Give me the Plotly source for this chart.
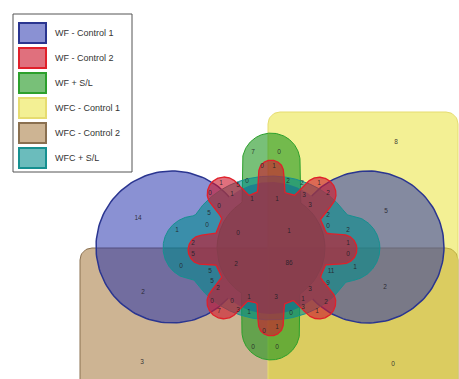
import numpy as np
import plotly.graph_objects as go

# ---- data -----------------------------------------------------------------
set_names = ["WF - Control 1", "WF - Control 2", "WF + S/L",
             "WFC - Control 1", "WFC - Control 2", "WFC + S/L"]

# region counts and the spot where each one is printed
region_counts = [8, 14, 5, 2, 2, 3, 0,
                 7, 0, 0, 1,
                 1, 0, 5, 0, 2, 2, 1,
                 1, 1, 1, 3, 2,
                 0, 3, 5, 2, 0, 0,
                 1, 2, 0, 1, 2, 1, 5, 0,
                 2, 86, 0, 1, 5, 11, 5, 9,
                 2, 3, 1, 3, 0, 0, 1, 2,
                 7, 3, 1, 0, 3, 1,
                 0, 1, 0, 0]
label_x = [396, 138, 386, 143, 385, 142, 393,
           253, 279, 262, 274,
           221, 210, 238, 247, 288, 302, 319,
           232, 252, 277, 304, 328,
           219, 310, 209, 328, 207, 328,
           177, 348, 238, 289, 193, 348, 193, 348,
           236, 289, 181, 355, 210, 331, 212, 328,
           218, 310, 249, 276, 212, 232, 303, 326,
           219, 238, 249, 291, 303, 317,
           264, 277, 253, 277]
label_y = [142, 218, 211, 292, 287, 362, 364,
           152, 152, 166, 166,
           183, 193, 185, 181, 181, 183, 183,
           194, 199, 199, 195, 193,
           206, 205, 213, 215, 225, 226,
           230, 230, 233, 231, 243, 243, 254, 254,
           264, 263, 266, 267, 271, 271, 281, 283,
           288, 289, 297, 297, 301, 301, 299, 302,
           311, 310, 312, 313, 307, 311,
           331, 327, 347, 347]

# fill / edge colours of the six sets (same order as set_names)
fills = ["rgba(30,45,170,0.52)", "rgba(205,25,45,0.62)", "rgba(30,150,30,0.6)",
         "rgba(232,226,50,0.52)", "rgba(155,105,40,0.5)", "rgba(0,140,140,0.58)"]
edges = ["#2a3590", "#e0202a", "#2ca02c", "#e6dc70", "#8a7050", "#169090"]

W, H = 459, 379
CX, CY = 271, 248


# ---- geometry helpers ------------------------------------------------------
def circle(cx, cy, r):
    return lambda X, Y: (X - cx) ** 2 + (Y - cy) ** 2 <= r * r


def ellipse(cx, cy, rx, ry):
    return lambda X, Y: ((X - cx) / rx) ** 2 + ((Y - cy) / ry) ** 2 <= 1


def capsule(x1, y1, x2, y2, r):
    def inside(X, Y):
        dx, dy = x2 - x1, y2 - y1
        t = np.clip(((X - x1) * dx + (Y - y1) * dy) / (dx * dx + dy * dy), 0, 1)
        return (X - x1 - t * dx) ** 2 + (Y - y1 - t * dy) ** 2 <= r * r
    return inside


def radial_union(parts, smooth=8, n=1440, rmax=200):
    th = np.linspace(0, 2 * np.pi, n, endpoint=False)
    r = np.linspace(0, rmax, 1601)
    X = CX + r[None, :] * np.cos(th)[:, None]
    Y = CY + r[None, :] * np.sin(th)[:, None]
    ins = np.zeros(X.shape, bool)
    for p in parts:
        ins |= p(X, Y)
    rad = np.where(ins, r[None, :], 0).max(axis=1)
    if smooth > 1:
        k = np.ones(smooth) / smooth
        ext = np.concatenate([rad[-smooth:], rad, rad[:smooth]])
        rad = np.convolve(ext, k, mode="same")[smooth:-smooth]
    xs = CX + rad * np.cos(th)
    ys = CY + rad * np.sin(th)
    return np.append(xs, xs[0]), np.append(ys, ys[0])


def rounded_rect(x0, y0, x1, y1, rr, n=12):
    pts = []
    corners = [(x1 - rr, y0 + rr, -90, 0), (x1 - rr, y1 - rr, 0, 90),
               (x0 + rr, y1 - rr, 90, 180), (x0 + rr, y0 + rr, 180, 270)]
    for cx, cy, a0, a1 in corners:
        a = np.radians(np.linspace(a0, a1, n))
        pts += list(zip(cx + rr * np.cos(a), cy + rr * np.sin(a)))
    pts.append(pts[0])
    return [p[0] for p in pts], [p[1] for p in pts]


def arc(cx, cy, r, a0, a1, n=120):
    a = np.radians(np.linspace(a0, a1, n))
    return cx + r * np.cos(a), cy + r * np.sin(a)


def circle_hits(c1, r1, c2, r2):
    """The two crossing points of two circles (upper one first, y downwards)."""
    dx, dy = c2[0] - c1[0], c2[1] - c1[1]
    d = np.hypot(dx, dy)
    a = (d * d + r1 * r1 - r2 * r2) / (2 * d)
    hh = np.sqrt(r1 * r1 - a * a)
    mx, my = c1[0] + a * dx / d, c1[1] + a * dy / d
    p1 = (mx + hh * dy / d, my - hh * dx / d)
    p2 = (mx - hh * dy / d, my + hh * dx / d)
    return (p1, p2) if p1[1] < p2[1] else (p2, p1)


def ang(c, p):
    return np.degrees(np.arctan2(p[1] - c[1], p[0] - c[0])) % 360


fig = go.Figure()


def add_fill(x, y, fill, edge, width):
    fig.add_trace(go.Scatter(x=x, y=y, mode="lines", fill="toself",
                             fillcolor=fill, line=dict(color=edge, width=width),
                             hoverinfo="skip", showlegend=False))


# WFC - Control 2 : lower half
bx, by = rounded_rect(80, 248, 458, 420, 12)
add_fill(bx, by, fills[4], edges[4], 1)
# WFC - Control 1 : right half
yx, yy = rounded_rect(268, 112, 458, 420, 12)
add_fill(yx, yy, fills[3], edges[3], 1)

# WF + S/L : round hub with a lobe above and below
gx, gy = radial_union([capsule(271, 162, 271, 331, 29), circle(CX, CY, 54)],
                      smooth=6)
add_fill(gx, gy, fills[2], edges[2], 1)

# WF - Control 1 : two discs bridged by a hub under the cog
rb, rh = 76, 66
lc, rc, hc = (172, 247), (368, 247), (CX, CY)
lu, ll = circle_hits(lc, rb, hc, rh)
ru, rl = circle_hits(rc, rb, hc, rh)
a0 = ang(lc, ll)
lx, ly = arc(lc[0], lc[1], rb, a0, ang(lc, lu) + (360 if ang(lc, lu) < a0 else 0))
h1 = ang(hc, lu)
htx, hty = arc(hc[0], hc[1], rh, h1, ang(hc, ru) + (360 if ang(hc, ru) < h1 else 0), 60)
r0 = ang(rc, ru)
rx_, ry_ = arc(rc[0], rc[1], rb, r0, ang(rc, rl) + (360 if ang(rc, rl) < r0 else 0))
h2 = ang(hc, rl)
hbx, hby = arc(hc[0], hc[1], rh, h2, ang(hc, ll) + (360 if ang(hc, ll) < h2 else 0), 60)
blue_x = np.concatenate([lx, htx, rx_, hbx, lx[:1]])
blue_y = np.concatenate([ly, hty, ry_, hby, ly[:1]])
fig.add_trace(go.Scatter(x=blue_x, y=blue_y, mode="lines", fill="toself",
                         fillcolor=fills[0], line=dict(width=0),
                         hoverinfo="skip", showlegend=False))
for ax_, ay_ in [(lx, ly), (rx_, ry_)]:
    fig.add_trace(go.Scatter(x=ax_, y=ay_, mode="lines",
                             line=dict(color=edges[0], width=1.5),
                             hoverinfo="skip", showlegend=False))

# WFC + S/L : wide body with side lobes
tx, ty = radial_union([ellipse(CX, CY, 85, 72), circle(195, 248, 32),
                       circle(347, 248, 33)], smooth=10)
add_fill(tx, ty, fills[5], edges[5], 1)

# WF - Control 2 : eight-lobed cog
red_parts = [circle(CX, CY, 57),
             capsule(CX, CY, 271, 173, 13), capsule(CX, CY, 271, 323, 13),
             capsule(CX, CY, 203, 250, 15), capsule(CX, CY, 342, 249, 15),
             capsule(CX, CY, 224, 194, 17), capsule(CX, CY, 319, 194, 17),
             capsule(CX, CY, 224, 302, 17), capsule(CX, CY, 319, 302, 17)]
rdx, rdy = radial_union(red_parts, smooth=14)
add_fill(rdx, rdy, fills[1], edges[1], 1.3)

# region counts
fig.add_trace(go.Scatter(x=label_x, y=label_y, mode="text",
                         text=[str(v) for v in region_counts],
                         textfont=dict(size=6.5, color="rgba(35,30,40,0.9)",
                                       family="Liberation Sans, Arial"),
                         hoverinfo="skip", showlegend=False))

# ---- legend box ------------------------------------------------------------
shapes = [dict(type="rect", x0=13, y0=14, x1=132, y1=172, xref="x", yref="y",
               fillcolor="white", line=dict(color="#555555", width=1))]
annotations = []
row_y = [33, 58, 83, 108, 133, 158]
for name, fc, ec, yc in zip(set_names, fills, edges, row_y):
    shapes.append(dict(type="rect", x0=19, x1=46, y0=yc - 10, y1=yc + 10,
                       xref="x", yref="y", fillcolor=fc,
                       line=dict(color=ec, width=2)))
    annotations.append(dict(x=53, y=yc, xref="x", yref="y", text=name,
                            showarrow=False, xanchor="left", yanchor="middle",
                            font=dict(size=9, color="#333333",
                                      family="Liberation Sans, Arial")))

fig.update_layout(
    width=W, height=379, autosize=False,
    margin=dict(l=0, r=0, t=0, b=0),
    paper_bgcolor="white", plot_bgcolor="white",
    xaxis=dict(range=[0, W], visible=False, fixedrange=True),
    yaxis=dict(range=[379, 0], visible=False, fixedrange=True),
    shapes=shapes, annotations=annotations,
)

fig.write_html("out.html")
